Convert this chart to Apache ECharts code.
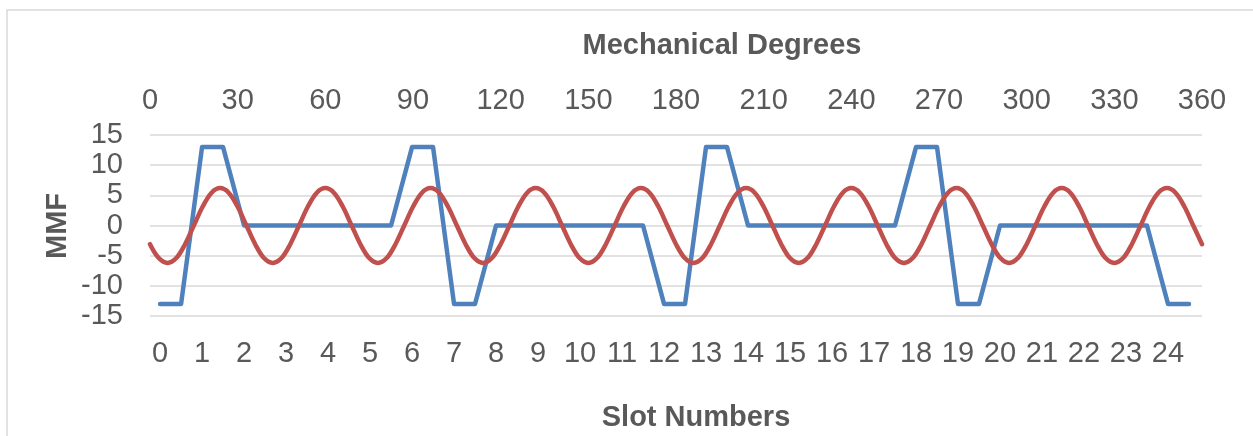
<!DOCTYPE html>
<html>
<head>
<meta charset="utf-8">
<script src="https://cdn.jsdelivr.net/npm/echarts@6/dist/echarts.min.js"></script>
<style>
html,body{margin:0;padding:0;background:#fff;}
#chart{width:1253px;height:436px;}
</style>
</head>
<body>
<div id="chart"></div>
<script>
// ---- Data ----
var slotLabels = [0,1,2,3,4,5,6,7,8,9,10,11,12,13,14,15,16,17,18,19,20,21,22,23,24];
var degreeTicks = [0,30,60,90,120,150,180,210,240,270,300,330,360];
var yTicks = [-15,-10,-5,0,5,10,15];

// Blue stepped MMF, x in slot numbers
var blueSlot = [0,0.5,1,1.5,2,5.5,6,6.5,7,7.5,8,11.5,12,12.5,13,13.5,14,17.5,18,18.5,19,19.5,20,23.5,24,24.5];
var blueMMF  = [-13,-13,13,13,0,0,13,13,-13,-13,0,0,-13,-13,13,13,0,0,13,13,-13,-13,0,0,-13,-13];

// Red fundamental, sampled every 3 mechanical degrees from 0 to 360
var redStepDeg = 3;
var redMMF = [
  -3.1,-5.4,-6.2,-5.4,-3.1,0,3.1,5.4,6.2,5.4,3.1,0,
  -3.1,-5.4,-6.2,-5.4,-3.1,0,3.1,5.4,6.2,5.4,3.1,0,
  -3.1,-5.4,-6.2,-5.4,-3.1,0,3.1,5.4,6.2,5.4,3.1,0,
  -3.1,-5.4,-6.2,-5.4,-3.1,0,3.1,5.4,6.2,5.4,3.1,0,
  -3.1,-5.4,-6.2,-5.4,-3.1,0,3.1,5.4,6.2,5.4,3.1,0,
  -3.1,-5.4,-6.2,-5.4,-3.1,0,3.1,5.4,6.2,5.4,3.1,0,
  -3.1,-5.4,-6.2,-5.4,-3.1,0,3.1,5.4,6.2,5.4,3.1,0,
  -3.1,-5.4,-6.2,-5.4,-3.1,0,3.1,5.4,6.2,5.4,3.1,0,
  -3.1,-5.4,-6.2,-5.4,-3.1,0,3.1,5.4,6.2,5.4,3.1,0,
  -3.1,-5.4,-6.2,-5.4,-3.1,0,3.1,5.4,6.2,5.4,3.1,0,
  -3.1
];

var titleTop = 'Mechanical Degrees';
var titleBottom = 'Slot Numbers';
var titleY = 'MMF';

// ---- Build ----
var blueData = blueSlot.map(function(s,i){return [s, blueMMF[i]];});
var redData = redMMF.map(function(v,i){return [i*redStepDeg, v];});

var FONT = '"Liberation Sans", Arial, sans-serif';
var TXT = '#595959';
var FS = 29;

var chart = echarts.init(document.getElementById('chart'), null, {renderer:'canvas'});
chart.setOption({
  backgroundColor:'#ffffff',
  animation:false,
  grid:{left:150, right:51, top:135, bottom:120, containLabel:false},
  xAxis:[
    {
      type:'value', position:'bottom', min:-0.24, max:24.81,
      axisLine:{show:false}, axisTick:{show:false}, splitLine:{show:false},
      axisLabel:{customValues:slotLabels, fontSize:FS, color:TXT, fontFamily:FONT, margin:23}
    },
    {
      type:'value', position:'top', min:degreeTicks[0], max:degreeTicks[degreeTicks.length-1], interval:30,
      axisLine:{show:false}, axisTick:{show:false}, splitLine:{show:false},
      axisLabel:{fontSize:FS, color:TXT, fontFamily:FONT, margin:20}
    }
  ],
  yAxis:{
    type:'value', min:yTicks[0], max:yTicks[yTicks.length-1], interval:5,
    axisLine:{show:false}, axisTick:{show:false},
    splitLine:{show:true, lineStyle:{color:'#d9d9d9', width:1.5}},
    axisLabel:{fontSize:FS, color:TXT, fontFamily:FONT, margin:27}
  },
  series:[
    {
      type:'line', xAxisIndex:0, yAxisIndex:0, data:blueData, showSymbol:false, symbol:'none',
      lineStyle:{color:'#4f81bd', width:4.5, cap:'round', join:'round'}, clip:false, z:2
    },
    {
      type:'line', xAxisIndex:1, yAxisIndex:0, data:redData, showSymbol:false, symbol:'none', smooth:0.35,
      lineStyle:{color:'#c0504d', width:4.5, cap:'round', join:'round'}, clip:false, z:3
    }
  ],
  graphic:[
    {type:'rect', silent:true, shape:{x:7, y:10, width:1300, height:500},
     style:{fill:'none', stroke:'#d9d9d9', lineWidth:1.5}, z:-1},
    {type:'text', x:722, y:46, style:{text:titleTop, fontSize:FS, fontWeight:'bold', fontFamily:FONT, fill:TXT, align:'center', verticalAlign:'middle'}},
    {type:'text', x:696, y:418, style:{text:titleBottom, fontSize:FS, fontWeight:'bold', fontFamily:FONT, fill:TXT, align:'center', verticalAlign:'middle'}},
    {type:'text', x:58, y:226, rotation:Math.PI/2, style:{text:titleY, fontSize:FS, fontWeight:'bold', fontFamily:FONT, fill:TXT, align:'center', verticalAlign:'middle'}}
  ]
});
</script>
</body>
</html>
